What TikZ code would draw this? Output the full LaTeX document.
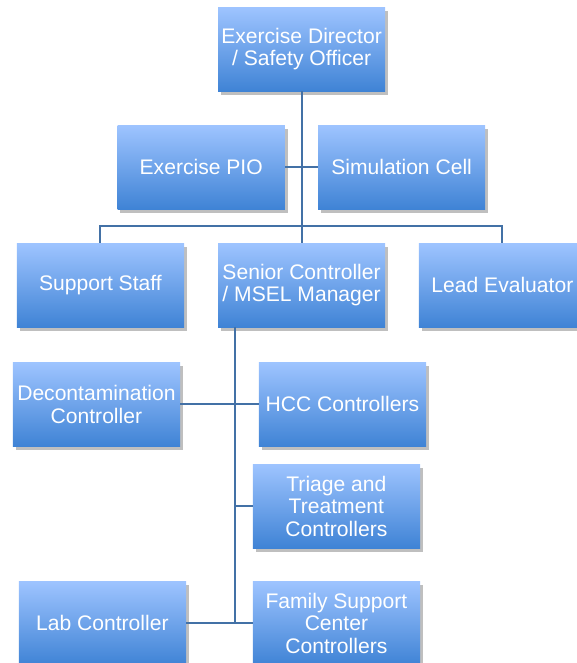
\documentclass[tikz,border=0pt]{standalone}
\usepackage{fontspec}
\setmainfont{Liberation Sans}
\usepackage{tikz}
\usetikzlibrary{shadows,calc}
\definecolor{boxtop}{HTML}{9EC4FF}
\definecolor{boxbot}{HTML}{3F83D5}
\definecolor{linkblue}{HTML}{4371A6}
\tikzset{
  % Org chart boxes
  orgbox/.style={top color=boxtop,bottom color=boxbot,draw=none,
                 minimum width=4.18cm,minimum height=2.1cm,inner sep=1pt,
                 align=center,text=white,
                 font=\fontsize{15}{16}\selectfont,
                 drop shadow={shadow xshift=0.7mm,shadow yshift=-0.9mm,
                              fill=black,opacity=0.25}},
  % Connectors
  ln/.style={draw=linkblue,line width=1.4pt}
}
\begin{document}
\begin{tikzpicture}
  \useasboundingbox (0,0) rectangle (14.4,-16.575);

  % --- Bus and trunk points ---
  \coordinate (busl) at (2.51,-5.65);
  \coordinate (trunk) at (5.88,-8.17);

  % --- Nodes ---
  \node[orgbox] (dir) at (7.54,-1.23)  {Exercise Director\\/ Safety Officer};

  \node[orgbox] (pio) at (5.03,-4.18)  {Exercise PIO};
  \node[orgbox] (sim) at (10.04,-4.18) {Simulation Cell};

  \node[orgbox] (sup)  at (2.51,-7.13)  {Support Staff};
  \node[orgbox] (sen)  at (7.54,-7.13)  {Senior Controller\\/ MSEL Manager};
  \node[orgbox] (lead) at (12.56,-7.13) {Lead Evaluator};

  \node[orgbox] (dec) at (2.41,-10.11) {Decontamination\\Controller};
  \node[orgbox] (hcc) at (8.56,-10.11) {HCC Controllers};
  \node[orgbox] (tri) at (8.41,-12.65) {Triage and\\Treatment\\Controllers};
  \node[orgbox] (lab) at (2.56,-15.58) {Lab Controller};
  \node[orgbox] (fam) at (8.41,-15.58) {Family Support\\Center\\Controllers};

  % --- Top tier ---
  \draw[ln] (dir.south) -- (sen.north);
  \draw[ln] (pio.east) -- (sim.west);
  \draw[ln] (sup.north) |- (busl) -| (lead.north);

  % --- Senior controller trunk ---
  \draw[ln] (trunk) -- (trunk |- lab.east);
  \draw[ln] (dec.east) -- (hcc.west);
  \draw[ln] (tri.west) -- (tri.west -| trunk);
  \draw[ln] (lab.east) -- (fam.west);
\end{tikzpicture}
\end{document}
